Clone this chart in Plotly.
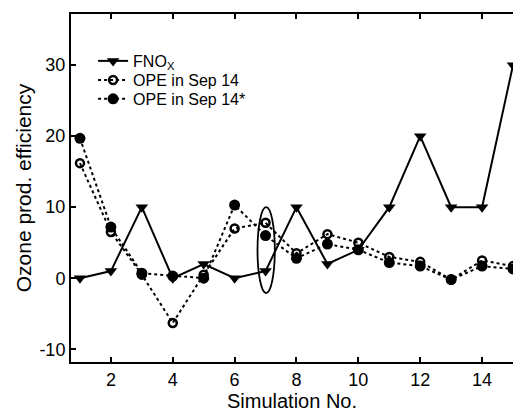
import plotly.graph_objects as go

# Simulation index
sim_no = list(range(1, 16))

# Series values
fnox = [0, 1, 10, 0, 2, 0, 1, 10, 2, 4, 10, 20, 10, 10, 30]
ope_sep14 = [16.2, 6.5, 0.5, -6.3, 0.5, 7.0, 7.8, 3.5, 6.2, 5.0, 3.0, 2.3, -0.2, 2.5, 1.7]
ope_sep14_star = [19.7, 7.2, 0.7, 0.3, 0.0, 10.3, 6.0, 2.8, 4.8, 4.0, 2.2, 1.7, -0.2, 1.7, 1.3]

# Tick labels
x_ticks = [2, 4, 6, 8, 10, 12, 14]
y_ticks = [-10, 0, 10, 20, 30]
y_tick_text = ["-10", "0", "10", "20", "30"]

font_family = "Liberation Sans, Arial, sans-serif"

fig = go.Figure()

fig.add_trace(go.Scatter(
    x=sim_no, y=fnox, mode="lines+markers", name="FNO<sub>X</sub>",
    line=dict(color="black", width=2),
    marker=dict(symbol="triangle-down", size=11, color="black"),
    legend="legend",
))
fig.add_trace(go.Scatter(
    x=sim_no, y=ope_sep14, mode="lines+markers", name="OPE in Sep 14",
    line=dict(color="black", width=2, dash="dot"),
    marker=dict(symbol="circle-open", size=8, color="black", line=dict(width=2.5)),
    legend="legend2",
))
fig.add_trace(go.Scatter(
    x=sim_no, y=ope_sep14_star, mode="lines+markers", name="OPE in Sep 14*",
    line=dict(color="black", width=2, dash="dot"),
    marker=dict(symbol="circle", size=11, color="black"),
    legend="legend3",
))

# Ellipse highlighting simulation 7
fig.add_shape(type="circle", xref="x", yref="y",
              x0=6.74, x1=7.3, y0=-2.1, y1=10.0,
              line=dict(color="black", width=1.8))

axis_common = dict(
    showline=True, linecolor="black", linewidth=2,
    ticks="inside", ticklen=5, tickwidth=2, tickcolor="black",
    showgrid=False, zeroline=False,
    tickfont=dict(family=font_family, size=18, color="black"),
)

fig.update_xaxes(range=[0.71, 15.0], tickvals=x_ticks, mirror="ticks",
                 title=dict(text="Simulation No.", font=dict(family=font_family, size=20, color="black"),
                            standoff=4),
                 **axis_common)
fig.update_yaxes(range=[-11.8, 37.2], tickvals=y_ticks, ticktext=y_tick_text, mirror=False,
                 title=dict(text="Ozone prod. efficiency", font=dict(family=font_family, size=21, color="black"),
                            standoff=2),
                 **axis_common)

legend_style = dict(x=0.05, xanchor="left", yanchor="middle",
                    bgcolor="rgba(0,0,0,0)", borderwidth=0,
                    font=dict(family=font_family, size=16, color="black"),
                    itemwidth=30)

fig.update_layout(
    width=513, height=416,
    margin=dict(l=71, r=0, t=14, b=54),
    paper_bgcolor="white", plot_bgcolor="white",
    showlegend=True,
    legend=dict(y=0.865, **legend_style),
    legend2=dict(y=0.810, **legend_style),
    legend3=dict(y=0.756, **legend_style),
    font=dict(family=font_family, color="black"),
)

fig.write_html("out.html")
